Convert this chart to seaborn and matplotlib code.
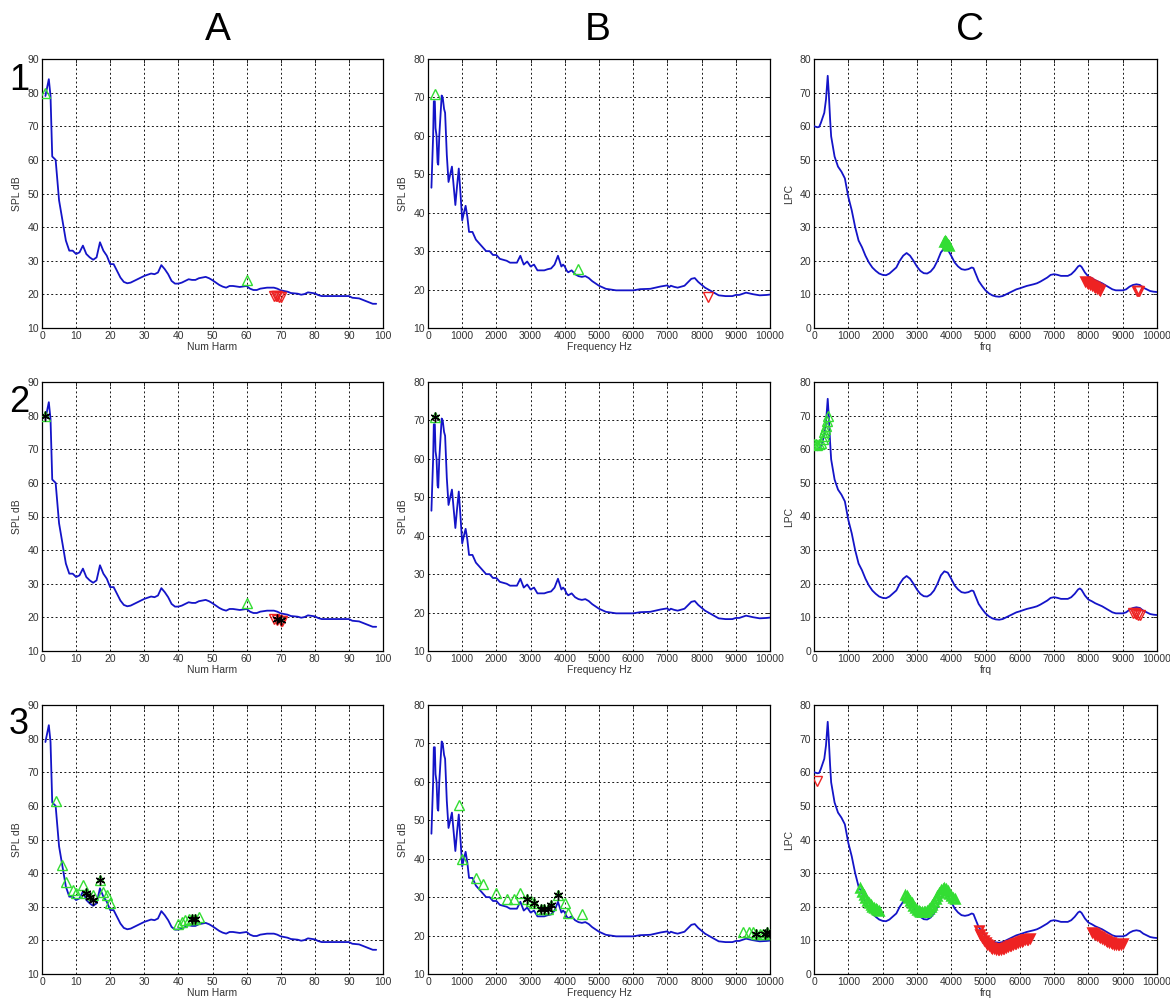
import numpy as np
import pandas as pd
import matplotlib
matplotlib.use("Agg")
import matplotlib.pyplot as plt
import seaborn as sns

# ---------------- data ----------------
harm_x = [1, 2, 2.5, 3, 4, 5, 6, 7, 8, 9, 10, 11, 12, 13, 14, 15, 16, 17, 18, 19, 20, 21, 22, 23, 24,
          25, 26, 28, 30, 32, 33, 34, 35, 36, 37, 38, 39, 40, 41, 42, 43, 44, 45, 46, 47, 48, 49, 50,
          51, 52, 53, 54, 55, 56, 58, 60, 61, 62, 63, 64, 66, 68, 69, 70, 72, 73, 75, 76, 77, 78, 80,
          81, 82, 85, 90, 91, 93, 95, 97, 98]
harm_y = [79, 84, 79, 61, 60, 48, 42, 36, 33, 33, 32, 32.5, 34.5, 32, 31, 30.3, 31, 35.5, 33, 31.5, 29,
          29, 27, 25, 23.7, 23.3, 23.5, 24.5, 25.5, 26.2, 26, 26.5, 28.7, 27.5, 26, 24, 23.2, 23.2, 23.5,
          24, 24.5, 24.3, 24.3, 24.8, 25, 25.2, 24.8, 24.2, 23.5, 22.8, 22.3, 22, 22.5, 22.5, 22.2, 22.5,
          21.7, 21.3, 21.3, 21.7, 22, 22, 21.7, 21.2, 20.8, 20.4, 20.2, 19.9, 20.1, 20.6, 20.3, 19.8,
          19.5, 19.5, 19.5, 19, 18.8, 18, 17.2, 17.2]

spec_x = [100, 120, 150, 170, 200, 220, 250, 280, 300, 330, 370, 400, 430, 470, 500, 550, 600, 650, 700,
          750, 800, 850, 900, 950, 1000, 1050, 1100, 1150, 1200, 1300, 1400, 1500, 1600, 1700, 1800, 1900,
          2000, 2100, 2300, 2400, 2600, 2700, 2800, 2900, 3000, 3100, 3200, 3400, 3500, 3600, 3700, 3800,
          3900, 3950, 4000, 4050, 4100, 4200, 4300, 4400, 4500, 4600, 4700, 4800, 5000, 5200, 5500, 6000,
          6200, 6500, 6800, 7000, 7050, 7100, 7200, 7300, 7500, 7700, 7800, 7900, 8100, 8300, 8500, 8700,
          8900, 9000, 9100, 9300, 9500, 9700, 9900, 10000]
spec_y = [46.5, 52, 60, 69, 69, 62, 60, 53, 52.5, 60, 66, 70.5, 70, 67, 66, 55, 48, 50, 52, 47, 42, 47,
          51.5, 45, 38, 40, 41.8, 39, 35, 35, 33, 32, 31, 30, 30, 29, 29, 28, 27.5, 27, 27, 28.8, 26.5,
          27.3, 26, 26.5, 25, 25, 25.3, 25.5, 26.5, 28.8, 26, 26.5, 26, 25, 24.5, 25, 24, 23.5, 23.3, 23.5,
          23, 22.2, 21, 20.2, 19.8, 19.8, 20.1, 20.2, 20.8, 21.1, 20.6, 21, 20.7, 20.5, 21, 22.8, 23, 22,
          20.5, 19.5, 18.5, 18.3, 18.3, 18.6, 18.6, 19.2, 18.8, 18.5, 18.6, 18.7]

lpc_x = [0, 100, 150, 200, 300, 350, 400, 430, 470, 500, 600, 700, 800, 900, 1000, 1100, 1200, 1300,
         1400, 1500, 1600, 1700, 1800, 1900, 2000, 2100, 2200, 2400, 2500, 2600, 2700, 2800, 2900, 3000,
         3100, 3200, 3300, 3400, 3500, 3600, 3700, 3800, 3900, 4000, 4100, 4200, 4300, 4400, 4500, 4600,
         4650, 4700, 4800, 4900, 5000, 5100, 5200, 5300, 5400, 5500, 5600, 5700, 5800, 5900, 6000, 6200,
         6400, 6500, 6600, 6800, 6900, 7000, 7100, 7200, 7400, 7500, 7600, 7700, 7750, 7800, 7900, 8000,
         8100, 8200, 8400, 8500, 8700, 8800, 9000, 9100, 9200, 9300, 9400, 9500, 9600, 9700, 9800, 9900,
         10000]
lpc_y = [60, 59.7, 59.8, 61, 64, 68, 75, 70, 62, 57, 51, 48, 46.5, 44.5, 39, 35, 30, 26, 24, 21.5, 19.5,
         18, 17, 16.2, 15.8, 15.7, 16.2, 18, 20, 21.5, 22.3, 21.5, 20, 18.3, 17, 16.3, 16.2, 16.8, 18, 20,
         22.5, 23.7, 23.3, 21.5, 19.5, 18.3, 17.5, 17.3, 17.5, 18, 17.8, 16.5, 14, 12.5, 11.2, 10.3, 9.7,
         9.4, 9.3, 9.5, 10, 10.5, 11, 11.5, 11.8, 12.5, 13, 13.3, 13.8, 15, 15.8, 16, 15.8, 15.5, 15.5, 16,
         17, 18.3, 18.6, 18.2, 16.5, 15.3, 14.8, 14.2, 13.3, 12.7, 11.5, 11.2, 11.2, 11.5, 12.3, 12.8, 13,
         12.8, 12, 11.5, 11, 10.8, 10.7]

# markers: row 1
a1_up_x, a1_up_y = [1, 60], [80, 24.3]
a1_dn_x, a1_dn_y = [68, 68.5, 69, 69.5, 70], [19.6, 19.5, 19.4, 19.3, 19.3]
b1_up_x, b1_up_y = [200, 4400], [71, 25.3]
b1_dn_x, b1_dn_y = [8200], [18]
c1_up_x = [3800, 3830, 3860, 3890, 3920, 3950]
c1_up_y = [25.5, 25.8, 25.5, 25.0, 24.7, 24.5]
c1_dn_x = [7900, 7950, 8000, 8050, 8100, 8150, 8200, 8250, 8300, 8350]
c1_dn_y = [14, 13.7, 13.3, 13, 12.7, 12.4, 12.1, 11.8, 11.5, 11.3]
c1_dn2_x, c1_dn2_y = [9420, 9450, 9480], [11, 11, 11]

# markers: row 2
a2_up_x, a2_up_y = [1, 60], [80, 24.3]
a2_dn_x, a2_dn_y = [68, 69, 70, 70.5], [19.5, 19.3, 19.0, 18.8]
a2_st_x, a2_st_y = [1, 69, 70], [80, 19.5, 19.3]
b2_up_x, b2_up_y = [200], [71]
b2_st_x, b2_st_y = [200], [71]
c2_up_x = [0, 50, 100, 150, 200, 250, 280, 300, 330, 350, 380, 400]
c2_up_y = [61.5, 61.5, 61.3, 61.5, 62, 63, 64, 65, 66, 67, 68.5, 70]
c2_dn_x = [9300, 9350, 9400, 9450, 9500]
c2_dn_y = [11.3, 11.2, 11.0, 10.8, 10.8]

# markers: row 3
a3_up_x = [4, 6, 7, 9, 10, 12, 13, 15, 17, 18, 19, 20, 40, 41, 42, 43, 44, 45, 46]
a3_up_y = [61.5, 42.5, 37.5, 35, 34, 36.5, 34, 33.5, 38, 34.5, 33.5, 31, 25, 25.5, 26, 26.5, 26.5, 26.5, 27]
a3_st_x = [13, 14, 15, 17, 44, 45]
a3_st_y = [34, 33, 32, 38, 26.5, 26.5]
b3_up_x = [900, 1000, 1400, 1600, 2000, 2300, 2500, 2700, 2900, 3000, 3100, 3300, 3400, 3500, 3600,
           3800, 4000, 4100, 4500, 9200, 9400, 9500, 9600, 9700, 9800, 9900, 10000]
b3_up_y = [54, 40, 35, 33.5, 31, 29.5, 29.5, 31, 29.5, 29, 28.5, 27, 27, 27, 28, 30.5, 28.5, 26, 25.5,
           21, 21, 21, 20.5, 20.5, 20.5, 21, 20.5]
b3_st_x = [2900, 3100, 3300, 3400, 3500, 3600, 3800, 9600, 9850, 9900, 10000]
b3_st_y = [29.5, 28.5, 27, 27, 27, 28, 30.5, 20.5, 20.5, 21, 20.5]
c3_up_x = [1350, 1400, 1450, 1500, 1550, 1600, 1650, 1700, 1750, 1800, 1850, 1900,
           2650, 2700, 2750, 2800, 2850, 2900, 2950, 3000, 3050, 3100, 3150, 3200, 3250, 3300, 3350,
           3400, 3450, 3500, 3550, 3600, 3650, 3700, 3750, 3800, 3850, 3900, 3950, 4000, 4050, 4100]
c3_up_y = [25.5, 24.5, 23.5, 22.5, 21.8, 21, 20.5, 20, 19.7, 19.3, 19, 18.8,
           23.5, 23.2, 22.5, 21.7, 21, 20.3, 19.6, 19.1, 18.7, 18.4, 18.3, 18.3, 18.4, 18.7, 19.2,
           19.8, 20.6, 21.5, 22.4, 23.3, 24.2, 24.9, 25.4, 25.6, 25.3, 24.6, 23.8, 23.1, 22.6, 22.3]
c3_lone_x, c3_lone_y = [100], [57.5]
c3_dn_x = [4800, 4850, 4900, 4950, 5000, 5050, 5100, 5150, 5200, 5250, 5300, 5350, 5400, 5450, 5500,
           5550, 5600, 5650, 5700, 5750, 5800, 5850, 5900, 5950, 6000, 6050, 6100, 6150, 6200, 6250, 6300,
           8100, 8150, 8200, 8250, 8300, 8350, 8400, 8450, 8500, 8550, 8600, 8650, 8700, 8750, 8800,
           8850, 8900, 8950, 9000]
c3_dn_y = [13, 12, 11, 10.2, 9.5, 9, 8.5, 8.1, 7.8, 7.6, 7.5, 7.4, 7.4, 7.5, 7.7,
           7.85, 8, 8.2, 8.5, 8.7, 8.9, 9.1, 9.3, 9.5, 9.7, 9.9, 10.1, 10.3, 10.4, 10.5, 10.6,
           12.5, 12.2, 12, 11.7, 11.4, 11.1, 10.8, 10.5, 10.2, 9.9, 9.6, 9.4, 9.2, 9, 8.9,
           8.8, 8.8, 9, 9.2]

col_titles = ["A", "B", "C"]
row_titles = ["1", "2", "3"]

# ---------------- style ----------------
sns.set_style("white")
plt.rcParams['font.family'] = ['Liberation Sans', 'DejaVu Sans']

BLUE = "#1414c8"
GREEN = "#33dd33"
RED = "#ee2222"

fig = plt.figure(figsize=(11.7, 10), dpi=100)

lefts = [42 / 1170, 428 / 1170, 814 / 1170]
widths = [341 / 1170, 342 / 1170, 343 / 1170]
bottoms = [1 - 328 / 1000, 1 - 651 / 1000, 1 - 974 / 1000]
height = 269 / 1000

curves = [
    (harm_x, harm_y, (0, 100), (10, 90), "Num Harm", "SPL dB", 10, 10),
    (spec_x, spec_y, (0, 10000), (10, 80), "Frequency Hz", "SPL dB", 1000, 10),
    (lpc_x, lpc_y, (0, 10000), (0, 80), "frq", "LPC", 1000, 10),
]

THIN = dict(markersize=7, markeredgewidth=1.0)
BAND = dict(markersize=6, markeredgewidth=1.8)

# (x, y, marker, color, style)
marker_sets = {
    (0, 0): [(a1_up_x, a1_up_y, "^", GREEN, THIN), (a1_dn_x, a1_dn_y, "v", RED, THIN)],
    (0, 1): [(b1_up_x, b1_up_y, "^", GREEN, THIN), (b1_dn_x, b1_dn_y, "v", RED, THIN)],
    (0, 2): [(c1_up_x, c1_up_y, "^", GREEN, BAND), (c1_dn_x, c1_dn_y, "v", RED, BAND),
             (c1_dn2_x, c1_dn2_y, "v", RED, THIN)],
    (1, 0): [(a2_up_x, a2_up_y, "^", GREEN, THIN), (a2_dn_x, a2_dn_y, "v", RED, THIN),
             (a2_st_x, a2_st_y, "*", "black", THIN)],
    (1, 1): [(b2_up_x, b2_up_y, "^", GREEN, THIN), (b2_st_x, b2_st_y, "*", "black", THIN)],
    (1, 2): [(c2_up_x, c2_up_y, "^", GREEN, THIN), (c2_dn_x, c2_dn_y, "v", RED, THIN)],
    (2, 0): [(a3_up_x, a3_up_y, "^", GREEN, THIN), (a3_st_x, a3_st_y, "*", "black", THIN)],
    (2, 1): [(b3_up_x, b3_up_y, "^", GREEN, THIN), (b3_st_x, b3_st_y, "*", "black", THIN)],
    (2, 2): [(c3_up_x, c3_up_y, "^", GREEN, BAND), (c3_dn_x, c3_dn_y, "v", RED, BAND),
             (c3_lone_x, c3_lone_y, "v", RED, THIN)],
}

asterisk = (6, 2, 0)

for r in range(3):
    for c in range(3):
        ax = fig.add_axes([lefts[c], bottoms[r], widths[c], height])
        cx, cy, xl, yl, xlab, ylab, xs, ys = curves[c]
        df = pd.DataFrame({"x": cx, "y": cy})
        sns.lineplot(data=df, x="x", y="y", ax=ax, color=BLUE, lw=1.3,
                     estimator=None, sort=False, zorder=3)
        for mx, my, mk, mc, st in marker_sets[(r, c)]:
            mk_real = asterisk if mk == "*" else mk
            sns.lineplot(x=mx, y=my, ax=ax, estimator=None, sort=False,
                         linestyle="", marker=mk_real, markerfacecolor="none",
                         markeredgecolor=mc, zorder=5 if mk == "*" else 4, **st)

        ax.set_xlim(*xl)
        ax.set_ylim(*yl)
        ax.set_xticks(np.arange(xl[0], xl[1] + 1, xs))
        ax.set_yticks(np.arange(yl[0], yl[1] + 1, ys))
        ax.grid(True, color="black", linestyle=(0, (2, 2.5)), linewidth=0.7, alpha=0.9)
        ax.set_axisbelow(True)
        for sp in ax.spines.values():
            sp.set_visible(True)
            sp.set_color("black")
            sp.set_linewidth(0.9)
        ax.tick_params(direction="in", length=3, width=0.7, top=True, right=True,
                       labelsize=7.5, labelcolor="#333333", pad=2)
        ax.set_xlabel(xlab, fontsize=7.5, color="#333333", labelpad=1)
        ax.set_ylabel(ylab, fontsize=7.5, color="#333333", labelpad=4)

# column and row titles
col_cx = [218 / 1170, 598 / 1170, 970 / 1170]
for t, x in zip(col_titles, col_cx):
    fig.text(x, 1 - 30 / 1000, t, fontsize=28, ha="center", va="center", color="black")
row_cy = [80, 402, 724]
for t, y in zip(row_titles, row_cy):
    fig.text(19 / 1170, 1 - y / 1000, t, fontsize=26, ha="center", va="center", color="black")

fig.savefig("out.png", dpi=100, facecolor="white")
